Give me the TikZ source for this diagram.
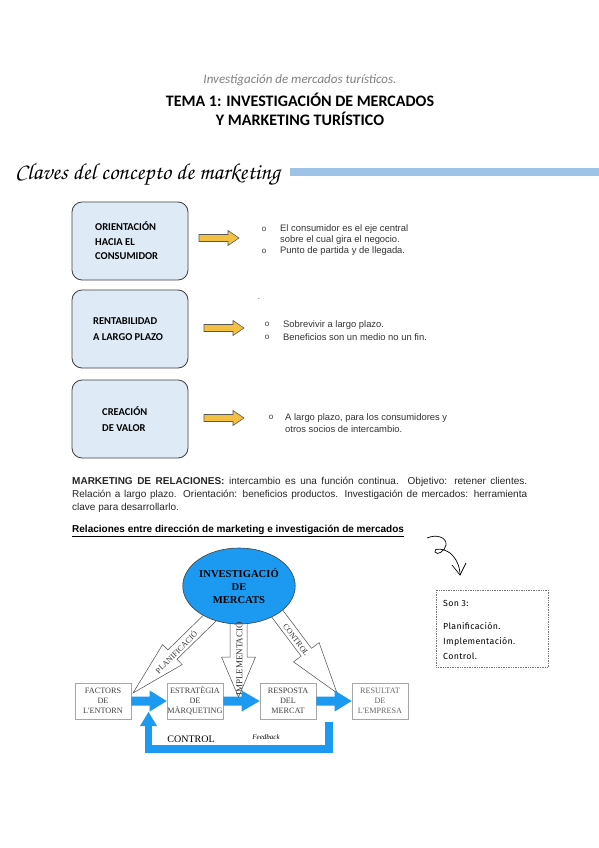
\documentclass[tikz,border=0pt]{standalone}
\usepackage{fontspec}
\usetikzlibrary{calc,shapes.geometric}
\newfontfamily\calibri{Carlito}
\newfontfamily\arialf{Liberation Sans}
\newfontfamily\timesf{Liberation Serif}
\newfontfamily\handf[LetterSpace=4]{Fira Sans}
\newcommand\scriptf{\fontencoding{OT1}\fontfamily{pzc}\fontseries{mb}\fontshape{it}\selectfont}
\definecolor{boxfill}{HTML}{DEEBF7}
\definecolor{boxline}{HTML}{404040}
\definecolor{yel}{HTML}{F4C042}
\definecolor{barblue}{HTML}{9DC3E6}
\definecolor{bblue}{HTML}{1C99F0}
\definecolor{txtgray}{HTML}{333333}
\newcommand\fatarrow[6]{%
  \path[#1] let \p1=(#2), \p2=(#3),
    \n1={atan2(\y2-\y1,\x2-\x1)},
    \n2={veclen(\x2-\x1,\y2-\y1)-#6}
  in ($(\p1)+(\n1+90:#4pt)$)
  -- ($(\p1)+(\n1:\n2)+(\n1+90:#4pt)$)
  -- ($(\p1)+(\n1:\n2)+(\n1+90:#5pt)$)
  -- (\p2)
  -- ($(\p1)+(\n1:\n2)+(\n1-90:#5pt)$)
  -- ($(\p1)+(\n1:\n2)+(\n1-90:#4pt)$)
  -- ($(\p1)+(\n1-90:#4pt)$) -- cycle;}
\tikzset{
  keybox/.style={draw=boxline, fill=boxfill, rounded corners=10pt, line width=0.8pt,
    minimum width=116pt, minimum height=78pt, inner sep=0pt},
  keytext/.style={anchor=west, align=left, inner sep=0pt, font=\calibri\bfseries\fontsize{10.5}{14.5}\selectfont},
  yarrow/.style={fill=yel, draw=black!65, line width=0.6pt},
  bullettext/.style={anchor=west, align=left, inner sep=0pt, text=txtgray,
    font=\arialf\fontsize{9.4}{11}\selectfont},
  bulletmark/.style={inner sep=0pt, text=txtgray, font=\arialf\fontsize{8}{9}\selectfont},
  flowbox/.style={draw=black!35, fill=white, line width=0.6pt, minimum width=56pt,
    minimum height=36pt, inner sep=0pt, align=center, text=black!75,
    font=\timesf\fontsize{8.2}{10}\selectfont},
  hollow/.style={fill=white, draw=black!70, line width=0.5pt},
  bluearrow/.style={fill=bblue},
  arrowlabel/.style={inner sep=0pt, text=black!80, font=\timesf\fontsize{8}{9}\selectfont},
}
\begin{document}
\begin{tikzpicture}[x=1pt,y=-1pt]
\useasboundingbox[fill=white] (0,0) rectangle (599,848);

% header
\node[inner sep=0pt, text=black!50, font=\calibri\itshape\fontsize{13}{15}\selectfont] (hdr) at (300,80) {Investigación de mercados turísticos.};
\node[inner sep=0pt, font=\calibri\bfseries\fontsize{16}{18}\selectfont] (tema1) at (300,100) {TEMA 1: INVESTIGACIÓN DE MERCADOS};
\node[inner sep=0pt, font=\calibri\bfseries\fontsize{16}{18}\selectfont] (tema2) at (300,119) {Y MARKETING TURÍSTICO};

% section title
\node[anchor=base west, inner sep=0pt, font=\scriptf\fontsize{23}{26}\selectfont] (claves) at (15,179) {Claves del concepto de marketing};
\fill[barblue] (290,168) rectangle (599,176);

% key boxes
\node[keybox] (b1) at (130,241) {};
\node[keybox] (b2) at (130,329) {};
\node[keybox] (b3) at (130,419) {};
\node[keytext] (t1) at (95,241) {ORIENTACIÓN\\HACIA EL\\CONSUMIDOR};
\node[keytext, font=\calibri\bfseries\fontsize{10.5}{16}\selectfont] (t2) at (93,329) {RENTABILIDAD\\A LARGO PLAZO};
\node[keytext, font=\calibri\bfseries\fontsize{10.5}{16}\selectfont] (t3) at (102,419) {CREACIÓN\\DE VALOR};

% yellow arrows
\coordinate (y1s) at (199,238); \coordinate (y1e) at (239,238);
\coordinate (y2s) at (204,328); \coordinate (y2e) at (244,328);
\coordinate (y3s) at (204,418); \coordinate (y3e) at (244,418);
\fatarrow{yarrow}{y1s}{y1e}{3.5}{7.5}{11}
\fatarrow{yarrow}{y2s}{y2e}{3.5}{7.5}{11}
\fatarrow{yarrow}{y3s}{y3e}{3.5}{7.5}{11}

% bullets
\node[bulletmark] (o1) at (264,229) {o};
\node[bulletmark] (o2) at (264,251) {o};
\node[bullettext] (bt1) at (280,240) {El consumidor es el eje central\\sobre el cual gira el negocio.\\Punto de partida y de llegada.};
\node[bulletmark] (dot) at (259,299) {.};
\node[bulletmark] (o3) at (267,324) {o};
\node[bulletmark] (o4) at (267,337) {o};
\node[bullettext, font=\arialf\fontsize{9.4}{12.5}\selectfont] (bt2) at (283,330.5) {Sobrevivir a largo plazo.\\Beneficios son un medio no un fin.};
\node[bulletmark] (o5) at (271,417) {o};
\node[bullettext, font=\arialf\fontsize{9.4}{12.5}\selectfont] (bt3) at (285,423) {A largo plazo, para los consumidores y\\otros socios de intercambio.};

% paragraph
\node[anchor=north west, inner sep=0pt, text width=455pt, align=justify, text=black!85,
  font=\arialf\fontsize{10}{13}\selectfont] (para) at (72,477)
  {\hyphenpenalty=10000\exhyphenpenalty=10000\textbf{MARKETING DE RELACIONES:} intercambio es una función continua. Objetivo: retener clientes.\linebreak Relación a largo plazo. Orientación: beneficios productos. Investigación de mercados: herramienta\linebreak clave para desarrollarlo.};
\node[anchor=west, inner sep=0pt, font=\arialf\bfseries\fontsize{10}{12}\selectfont] (rel) at (72,531)
  {\underline{Relaciones entre dirección de marketing e investigación de mercados}};

% hollow arrows (drawn below the ellipse)
\coordinate (pS) at (216,612); \coordinate (pT) at (133,693);
\coordinate (iS) at (238.5,612); \coordinate (iT) at (238.5,697);
\coordinate (cS) at (270,604); \coordinate (cT) at (337,693);
\fatarrow{hollow}{pS}{pT}{6.5}{14}{55}
\fatarrow{hollow}{iS}{iT}{8.5}{17}{40}
\fatarrow{hollow}{cS}{cT}{6.5}{16}{51}

% ellipse
\node[ellipse, draw=black!75, line width=0.6pt, fill=bblue, minimum width=102pt, minimum height=76pt,
  inner sep=0pt, align=center, font=\timesf\bfseries\fontsize{10.6}{12.8}\selectfont] (inv) at (239,586)
  {INVESTIGACIÓ\\DE\\MERCATS};

% arrow labels
\node[arrowlabel, rotate=45] (lp) at (176,652) {PLANIFICACIÓ};
\node[arrowlabel, rotate=90, font=\timesf\fontsize{9}{10}\selectfont] (li) at (238.5,659) {IMPLEMENTACIÓ};
\node[arrowlabel, rotate=-53] (lc) at (296,640) {CONTROL};

% flow boxes
\node[flowbox] (fac) at (103,701) {FACTORS\\DE\\L'ENTORN};
\node[flowbox] (est) at (195,701) {ESTRATÈGIA\\DE\\MÀRQUETING};
\node[flowbox] (res) at (288,701) {RESPOSTA\\DEL\\MERCAT};
\node[flowbox, text=black!60] (rsl) at (380,701) {RESULTAT\\DE\\L'EMPRESA};

% blue arrows
\fatarrow{bluearrow}{fac.east}{est.west}{4.5}{10.5}{17}
\fatarrow{bluearrow}{est.east}{res.west}{4.5}{10.5}{18}
\fatarrow{bluearrow}{res.east}{rsl.west}{4.5}{10.5}{17}

% feedback loop
\coordinate (fbS) at (329,722);
\coordinate (fbC) at (148.5,749);
\coordinate (fbE) at (148.5,712);
\draw[bblue, line width=7.5pt] (fbS) |- (fbC) -- ($(fbE)+(0,14)$);
\fill[bblue] ($(fbE)+(-8.5,14)$) -- (fbE) -- ($(fbE)+(8.5,14)$) -- cycle;
\node[inner sep=0pt, font=\timesf\fontsize{10}{12}\selectfont] (ctl) at (191,739) {CONTROL};
\node[inner sep=0pt, font=\timesf\itshape\fontsize{7}{9}\selectfont] (fdb) at (266,737) {Feedback};

% side note
\draw[black, line width=0.7pt] (427,538) .. controls (436,534) and (447,537) .. (446,545)
  .. controls (445,551) and (437,556) .. (435,552)
  .. controls (433,548) and (443,548) .. (450,553)
  .. controls (456,558) and (460,566) .. (460,575);
\draw[black, line width=0.7pt] (452,565) -- (460,575) -- (466,563);
\node[draw=black!55, densely dotted, line width=0.7pt, minimum width=112pt, minimum height=77pt,
  anchor=north west, inner sep=0pt] (son) at (436,590) {};
\node[anchor=west, align=left, inner sep=0pt, font=\handf\fontsize{8.8}{15}\selectfont] (sontxt) at (443,629.5)
  {Son 3:\\[8pt]Planificación.\\Implementación.\\Control.};
\end{tikzpicture}
\end{document}
